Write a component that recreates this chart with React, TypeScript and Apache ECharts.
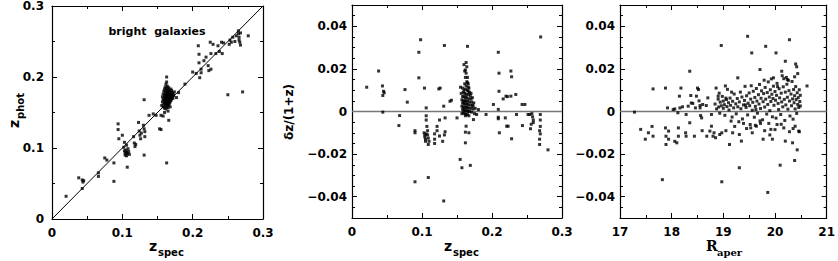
import React, { useEffect, useRef } from "react";
import * as echarts from "echarts";

// ---- tick labels ----
const zTicks = [0, 0.1, 0.2, 0.3];
const dzTicks = [-0.04, -0.02, 0, 0.02, 0.04];
const rTicks = [17, 18, 19, 20, 21];

// ---- panel 1: z_spec vs z_phot ----
const p1Points: number[][] = [
  [0.020, 0.032], [0.038, 0.058], [0.043, 0.055], [0.044, 0.052], [0.045, 0.054], [0.043, 0.043],
  [0.066, 0.065], [0.066, 0.060], [0.075, 0.086], [0.078, 0.083], [0.088, 0.079], [0.088, 0.053],
  [0.094, 0.134], [0.094, 0.126], [0.095, 0.113], [0.100, 0.118], [0.102, 0.101], [0.103, 0.096],
  [0.104, 0.093], [0.104, 0.090], [0.105, 0.097], [0.106, 0.094], [0.106, 0.089], [0.107, 0.092],
  [0.108, 0.099], [0.109, 0.095], [0.110, 0.091], [0.103, 0.108], [0.106, 0.104], [0.107, 0.073],
  [0.116, 0.116], [0.117, 0.107], [0.118, 0.102], [0.119, 0.105], [0.123, 0.136], [0.124, 0.124],
  [0.125, 0.118], [0.126, 0.113], [0.127, 0.121], [0.130, 0.132], [0.131, 0.127], [0.132, 0.123],
  [0.132, 0.116], [0.131, 0.090], [0.131, 0.168], [0.138, 0.146], [0.144, 0.148], [0.148, 0.146],
  [0.153, 0.127], [0.155, 0.126], [0.163, 0.079], [0.166, 0.139],
  [0.156, 0.160], [0.157, 0.165], [0.157, 0.172], [0.158, 0.158], [0.158, 0.168], [0.158, 0.176],
  [0.159, 0.162], [0.159, 0.170], [0.159, 0.180], [0.160, 0.156], [0.160, 0.164], [0.160, 0.167],
  [0.160, 0.174], [0.160, 0.183], [0.161, 0.159], [0.161, 0.163], [0.161, 0.169], [0.161, 0.172],
  [0.161, 0.178], [0.161, 0.186], [0.162, 0.155], [0.162, 0.161], [0.162, 0.166], [0.162, 0.171],
  [0.162, 0.175], [0.162, 0.181], [0.162, 0.190], [0.163, 0.158], [0.163, 0.163], [0.163, 0.168],
  [0.163, 0.173], [0.163, 0.177], [0.163, 0.184], [0.163, 0.193], [0.164, 0.160], [0.164, 0.165],
  [0.164, 0.169], [0.164, 0.172], [0.164, 0.176], [0.164, 0.180], [0.164, 0.187], [0.165, 0.157],
  [0.165, 0.162], [0.165, 0.167], [0.165, 0.171], [0.165, 0.174], [0.165, 0.179], [0.165, 0.183],
  [0.166, 0.161], [0.166, 0.166], [0.166, 0.170], [0.166, 0.175], [0.166, 0.178], [0.166, 0.185],
  [0.167, 0.163], [0.167, 0.168], [0.167, 0.172], [0.167, 0.176], [0.167, 0.181], [0.168, 0.165],
  [0.168, 0.170], [0.168, 0.174], [0.168, 0.179], [0.169, 0.167], [0.169, 0.172], [0.169, 0.177],
  [0.169, 0.183], [0.170, 0.169], [0.170, 0.175], [0.170, 0.181], [0.171, 0.172], [0.171, 0.178],
  [0.172, 0.170], [0.172, 0.176], [0.173, 0.174], [0.174, 0.179], [0.160, 0.150], [0.165, 0.152],
  [0.168, 0.158], [0.158, 0.145], [0.155, 0.146],
  [0.163, 0.200], [0.177, 0.171], [0.180, 0.178], [0.189, 0.190], [0.200, 0.207], [0.205, 0.205],
  [0.208, 0.244], [0.209, 0.232], [0.209, 0.220], [0.210, 0.199], [0.212, 0.211], [0.212, 0.206],
  [0.216, 0.223], [0.219, 0.228], [0.222, 0.216], [0.223, 0.209], [0.225, 0.249], [0.226, 0.233],
  [0.226, 0.211], [0.229, 0.246], [0.233, 0.233], [0.236, 0.244], [0.238, 0.236], [0.241, 0.249],
  [0.242, 0.233], [0.244, 0.248], [0.250, 0.175], [0.252, 0.246], [0.253, 0.252], [0.255, 0.249],
  [0.257, 0.256], [0.260, 0.250], [0.262, 0.258], [0.265, 0.265], [0.265, 0.261], [0.266, 0.256],
  [0.266, 0.252], [0.267, 0.249], [0.268, 0.262], [0.268, 0.245], [0.279, 0.258], [0.271, 0.179],
];

// ---- panel 2: z_spec vs dz/(1+z) ----
const p2Points: number[][] = [
  [0.021, 0.0114], [0.038, 0.019], [0.0435, 0.012], [0.045, 0.0095], [0.046, 0.0088], [0.044, 0.0075],
  [0.044, -0.0003], [0.068, -0.0019], [0.067, -0.0066], [0.0757, 0.0103], [0.079, 0.0044],
  [0.090, -0.009], [0.090, -0.010], [0.090, -0.033], [0.0955, 0.0158], [0.0955, 0.0278], [0.098, 0.0337],
  [0.1035, 0.011], [0.103, -0.010], [0.104, -0.011], [0.104, -0.012], [0.105, -0.013], [0.105, -0.014],
  [0.106, -0.0105], [0.106, 0.0017], [0.106, -0.002], [0.106, -0.004], [0.107, -0.007], [0.108, -0.009],
  [0.108, -0.011], [0.109, -0.0125], [0.109, -0.0155], [0.110, -0.014], [0.109, -0.031],
  [0.118, -0.0105], [0.118, -0.013], [0.118, -0.015], [0.1215, -0.007], [0.1215, -0.009],
  [0.124, 0.0106], [0.126, 0.011], [0.125, -0.004], [0.125, -0.0115], [0.1295, -0.014], [0.131, 0.0025],
  [0.132, -0.011], [0.132, 0.031], [0.133, -0.003], [0.133, -0.0095], [0.131, -0.042],
  [0.140, 0.0048], [0.142, 0.0053], [0.150, -0.003], [0.1545, -0.0225], [0.157, -0.0264], [0.155, 0.0114],
  [0.165, 0.0306], [0.163, -0.0069], [0.162, -0.0097], [0.162, -0.0147], [0.167, -0.010], [0.169, -0.0253],
  [0.1735, -0.0038], [0.1806, 0.0009], [0.178, -0.0014], [0.1915, -0.0014], [0.202, 0.0033],
  [0.209, 0.001], [0.209, -0.0027], [0.209, -0.0034], [0.209, 0.0278], [0.210, 0.018], [0.210, 0.0095],
  [0.2105, -0.0100], [0.216, 0.0059], [0.220, 0.0072], [0.222, 0.0070], [0.219, -0.003], [0.223, -0.0069],
  [0.221, -0.0069], [0.227, 0.019], [0.228, 0.0163], [0.227, 0.0072], [0.228, -0.0128], [0.234, 0.008],
  [0.235, -0.0014], [0.243, 0.0033], [0.247, 0.0033], [0.2435, -0.0066], [0.2515, -0.0014], [0.254, -0.0014],
  [0.255, -0.0081], [0.257, -0.001], [0.258, -0.0025], [0.259, -0.004], [0.259, -0.0052], [0.256, -0.006],
  [0.269, -0.0014], [0.269, -0.004], [0.269, -0.007], [0.268, -0.009], [0.269, -0.0105], [0.268, -0.013],
  [0.268, -0.0155], [0.2695, 0.035], [0.280, -0.018],
  [0.160, 0.022], [0.163, 0.023], [0.164, 0.021], [0.161, 0.019], [0.163, 0.018], [0.165, 0.016],
  [0.162, 0.016], [0.164, 0.014], [0.166, 0.013], [0.161, 0.013], [0.163, 0.012], [0.167, 0.011],
  [0.158, 0.011], [0.160, 0.010], [0.162, 0.0105], [0.165, 0.010], [0.168, 0.009], [0.159, 0.009],
  [0.161, 0.0085], [0.163, 0.008], [0.166, 0.008], [0.169, 0.0075], [0.158, 0.007], [0.160, 0.007],
  [0.162, 0.0065], [0.164, 0.0065], [0.167, 0.006], [0.170, 0.006], [0.157, 0.0055], [0.159, 0.005],
  [0.161, 0.005], [0.163, 0.005], [0.165, 0.0048], [0.168, 0.0045], [0.171, 0.0045], [0.158, 0.004],
  [0.160, 0.0038], [0.162, 0.0035], [0.164, 0.0035], [0.166, 0.0032], [0.169, 0.003], [0.172, 0.003],
  [0.157, 0.0025], [0.159, 0.0022], [0.161, 0.002], [0.163, 0.002], [0.165, 0.0018], [0.167, 0.0015],
  [0.170, 0.0015], [0.173, 0.0012], [0.158, 0.001], [0.160, 0.0008], [0.162, 0.0005], [0.164, 0.0003],
  [0.166, 0.0], [0.168, 0.0], [0.171, -0.0003], [0.159, -0.0005], [0.161, -0.001], [0.163, -0.0012],
  [0.165, -0.0015], [0.167, -0.002], [0.162, -0.002], [0.175, -0.001], [0.176, 0.0015], [0.174, 0.004],
  [0.156, 0.0085], [0.157, -0.001], [0.166, 0.0115], [0.165, 0.0135], [0.162, 0.0195], [0.166, 0.0095],
  [0.170, 0.0085], [0.172, 0.0065], [0.173, 0.0025],
];

// ---- panel 3: R_aper vs dz/(1+z) ----
const p3Points: number[][] = [
  [17.28, -0.0003], [17.40, -0.0084], [17.49, -0.013], [17.55, -0.010], [17.62, -0.007], [17.64, -0.0116],
  [17.64, 0.0106], [17.82, -0.032], [17.88, 0.011], [17.88, -0.0077], [17.89, -0.0116], [17.89, -0.0155],
  [17.92, 0.0017], [17.94, -0.0092], [17.94, -0.013], [18.03, 0.0009], [18.06, 0.0012], [18.06, -0.014],
  [18.10, -0.0147], [18.13, -0.0116], [18.13, -0.0077], [18.12, -0.0006], [18.15, 0.0072], [18.16, 0.0017],
  [18.18, 0.011], [18.21, 0.0022], [18.28, -0.0014], [18.27, -0.010], [18.28, -0.0116], [18.32, 0.0025],
  [18.35, -0.0053], [18.35, 0.0189], [18.37, 0.0075], [18.38, 0.004], [18.41, 0.0038], [18.44, -0.0116],
  [18.46, 0.0017], [18.48, 0.0072], [18.50, 0.011], [18.52, 0.0103], [18.53, 0.005], [18.55, 0.0028],
  [18.55, 0.0017], [18.56, -0.0019], [18.58, -0.003], [18.59, -0.009], [18.60, 0.0033], [18.67, 0.0028],
  [18.68, -0.0116], [18.70, 0.0064], [18.74, -0.0092], [18.77, -0.0069], [18.77, -0.0014], [18.80, -0.0116],
  [18.82, -0.010], [18.85, -0.0123], [18.86, 0.011], [18.90, 0.0072], [18.93, -0.0108], [18.96, 0.031],
  [18.97, -0.010], [18.97, -0.033], [19.04, 0.012], [19.12, -0.0155], [19.15, -0.0045], [19.18, -0.010],
  [19.28, 0.0158], [19.31, -0.0108], [19.31, -0.0264], [19.35, -0.0139], [19.39, -0.0056], [19.47, 0.0353],
  [19.53, -0.0077], [19.55, 0.0275], [19.56, -0.010], [19.64, -0.0069], [19.71, 0.0197], [19.72, -0.0056],
  [19.77, -0.013], [19.82, 0.0306], [19.86, -0.038], [19.88, -0.0056], [19.92, -0.0084], [19.95, -0.013],
  [19.97, 0.0158], [20.02, 0.0275], [20.04, -0.0061], [20.10, -0.0252], [20.13, 0.0189], [20.17, -0.0077],
  [20.20, 0.0236], [20.20, -0.0139], [20.22, 0.016], [20.24, 0.015], [20.28, 0.0337], [20.34, -0.0147],
  [20.38, -0.023], [20.39, -0.0069], [20.40, 0.0223], [20.42, 0.021], [20.44, 0.0178], [20.43, -0.018],
  [20.46, -0.0092], [20.62, 0.012],
  [18.84, 0.0035], [18.87, 0.0012], [18.90, 0.0058], [18.91, 0.0021], [18.93, -0.0008], [18.94, 0.0044],
  [18.96, 0.0027], [18.98, 0.0071], [19.00, 0.0015], [19.00, 0.0049], [19.02, 0.0032], [19.03, -0.0018],
  [19.06, 0.0056], [19.07, 0.0023], [19.08, 0.0104], [19.10, 0.0041], [19.11, 0.0007], [19.13, 0.0063],
  [19.14, 0.0029], [19.17, -0.0026], [19.18, 0.0048], [19.20, 0.0017], [19.21, 0.0082], [19.24, 0.0036],
  [19.25, -0.0011], [19.27, 0.0061], [19.28, 0.0022], [19.31, 0.0045], [19.33, 0.0091], [19.34, 0.0013],
  [19.36, 0.0068], [19.37, -0.0035], [19.39, 0.0031], [19.41, 0.0052], [19.42, 0.0118], [19.44, 0.0019],
  [19.45, 0.0074], [19.47, -0.0016], [19.48, 0.0039], [19.50, 0.0087], [19.51, 0.0027], [19.53, 0.0058],
  [19.54, 0.0121], [19.56, 0.0006], [19.57, 0.0043], [19.58, 0.0095], [19.60, -0.0027], [19.61, 0.0066],
  [19.62, 0.0024], [19.64, 0.0108], [19.65, 0.0049], [19.66, -0.0008], [19.68, 0.0079], [19.69, 0.0035],
  [19.70, 0.0127], [19.72, 0.0014], [19.73, 0.0062], [19.74, 0.0097], [19.76, -0.0039], [19.77, 0.0046],
  [19.78, 0.0084], [19.80, 0.0021], [19.81, 0.0113], [19.82, 0.0058], [19.84, -0.0012], [19.85, 0.0089],
  [19.86, 0.0033], [19.87, 0.0139], [19.89, 0.0068], [19.90, 0.0004], [19.91, 0.0102], [19.92, 0.0047],
  [19.94, 0.0081], [19.95, -0.0025], [19.96, 0.0061], [19.97, 0.0119], [19.98, 0.0029], [20.00, 0.0094],
  [20.01, 0.0053], [20.02, -0.0031], [20.03, 0.0076], [20.04, 0.0132], [20.06, 0.0038], [20.07, 0.0009],
  [20.08, 0.0107], [20.09, 0.0064], [20.11, -0.0014], [20.12, 0.0086], [20.13, 0.0045], [20.14, 0.0168],
  [20.15, 0.0022], [20.16, 0.0116], [20.18, 0.0057], [20.19, -0.0042], [20.20, 0.0091], [20.21, 0.0031],
  [20.23, 0.0128], [20.24, 0.0067], [20.25, 0.0011], [20.27, 0.0098], [20.28, 0.0049], [20.29, -0.0021],
  [20.31, 0.0082], [20.32, 0.0027], [20.33, 0.0141], [20.34, 0.0059], [20.35, -0.0036], [20.36, 0.0103],
  [20.37, 0.0041], [20.38, 0.0074], [20.39, 0.0012], [20.40, 0.0117], [20.41, 0.0056], [20.42, -0.0009],
  [20.43, 0.0088], [20.44, 0.0033], [20.45, 0.0065], [20.46, 0.0019], [20.47, 0.0102], [20.48, 0.0047],
  [20.49, 0.0076], [20.47, -0.0095], [20.49, 0.0026],
  [18.92, 0.0086], [19.05, 0.0063], [19.16, 0.0091], [19.30, -0.0048], [19.43, 0.0031], [19.52, -0.0061],
  [19.63, 0.0009], [19.71, -0.0044], [19.79, 0.0147], [19.93, 0.0153], [20.05, 0.0117], [20.17, 0.0154],
  [20.26, 0.0146], [20.38, 0.0163],
  [19.05, -0.009], [19.22, -0.007], [19.45, -0.008], [19.62, -0.0065], [19.80, -0.009], [19.90, -0.011],
  [20.00, -0.0085], [20.12, -0.006], [20.28, -0.0095], [20.35, -0.008],
];

const diagLine = [[0, 0], [0.3, 0.3]];
const zeroLineZ = [[0, 0], [0.3, 0]];
const zeroLineR = [[17, 0], [21, 0]];

const LABEL_FONT = "'DejaVu Sans', sans-serif";

function fmt(v: number) {
  if (Math.abs(v) < 1e-9) return "0";
  return String(+v.toFixed(3)).replace("-", "\u2212");
}

const lineStyle = { color: "#000", width: 1.2 };

function mainAxis(o: any) {
  const { min, max, interval, split, position, grid, labels, margin, custom } = o;
  const ax: any = {
    type: "value",
    gridIndex: grid,
    position,
    min,
    max,
    interval,
    axisLine: { show: true, onZero: false, lineStyle },
    axisTick: { show: true, inside: true, length: 5, lineStyle: { color: "#000", width: 1 } },
    minorTick: { show: !!split, splitNumber: split || 2, length: 3, lineStyle: { color: "#000", width: 1 } },
    splitLine: { show: false },
    axisLabel: {
      show: !!labels,
      margin: margin ?? 8,
      color: "#000",
      fontFamily: LABEL_FONT,
      fontWeight: "bold",
      fontSize: 12,
      formatter: (v: number) => fmt(v),
    },
  };
  if (custom) {
    ax.axisTick.customValues = custom;
    ax.axisLabel.customValues = custom;
  }
  return ax;
}

function minorAxis(o: any) {
  return {
    type: "value",
    gridIndex: o.grid,
    position: o.position,
    min: o.min,
    max: o.max,
    interval: o.interval,
    axisLine: { show: false, onZero: false },
    axisTick: { show: true, inside: true, length: 3, lineStyle: { color: "#000", width: 1 } },
    axisLabel: { show: false },
    splitLine: { show: false },
  };
}

export default function App() {
  const ref = useRef<HTMLDivElement>(null);
  useEffect(() => {
    document.body.style.margin = "0";
    const chart = echarts.init(ref.current!, undefined, { renderer: "svg" });
    const grids = [
      { left: 52, top: 5, width: 211, height: 214 },
      { left: 352, top: 5, width: 210, height: 213 },
      { left: 620, top: 5, width: 209, height: 213 },
    ];
    const zMin = zTicks[0], zMax = zTicks[zTicks.length - 1];
    const rMin = rTicks[0], rMax = rTicks[rTicks.length - 1];
    const xAxis = [
      mainAxis({ grid: 0, position: "bottom", min: zMin, max: zMax, interval: 0.1, split: 2, labels: true, margin: 8 }),
      mainAxis({ grid: 0, position: "top", min: zMin, max: zMax, interval: 0.1, split: 2 }),
      mainAxis({ grid: 1, position: "bottom", min: zMin, max: zMax, interval: 0.1, split: 2, labels: true, margin: 8 }),
      mainAxis({ grid: 1, position: "top", min: zMin, max: zMax, interval: 0.1, split: 2 }),
      mainAxis({ grid: 2, position: "bottom", min: rMin, max: rMax, interval: 1, split: 2, labels: true, margin: 8 }),
      mainAxis({ grid: 2, position: "top", min: rMin, max: rMax, interval: 1, split: 2 }),
    ];
    const yAxis = [
      mainAxis({ grid: 0, position: "left", min: zMin, max: zMax, interval: 0.1, split: 2, labels: true, margin: 8 }),
      mainAxis({ grid: 0, position: "right", min: zMin, max: zMax, interval: 0.1, split: 2 }),
      mainAxis({ grid: 1, position: "left", min: -0.05, max: 0.05, interval: 0.01, labels: true, margin: 5, custom: dzTicks }),
      mainAxis({ grid: 1, position: "right", min: -0.05, max: 0.05, interval: 0.01, custom: dzTicks }),
      minorAxis({ grid: 1, position: "left", min: -0.05, max: 0.05, interval: 0.005 }),
      minorAxis({ grid: 1, position: "right", min: -0.05, max: 0.05, interval: 0.005 }),
      mainAxis({ grid: 2, position: "left", min: -0.05, max: 0.05, interval: 0.01, labels: true, margin: 5, custom: dzTicks }),
      mainAxis({ grid: 2, position: "right", min: -0.05, max: 0.05, interval: 0.01, custom: dzTicks }),
      minorAxis({ grid: 2, position: "left", min: -0.05, max: 0.05, interval: 0.005 }),
      minorAxis({ grid: 2, position: "right", min: -0.05, max: 0.05, interval: 0.005 }),
    ];
    const dot = { type: "scatter", symbol: "rect", symbolSize: 3, itemStyle: { color: "#000" }, silent: true };
    const line = (data: number[][], color: string, width: number, xi: number, yi: number) => ({
      type: "line", data, xAxisIndex: xi, yAxisIndex: yi, symbol: "none", silent: true,
      lineStyle: { color, width }, z: 1,
    });
    const series: any[] = [
      line(diagLine, "#000", 1, 0, 0),
      line(zeroLineZ, "#777", 1.5, 2, 2),
      line(zeroLineR, "#777", 1.5, 4, 6),
      { ...dot, xAxisIndex: 0, yAxisIndex: 0, data: p1Points, z: 2 },
      { ...dot, xAxisIndex: 2, yAxisIndex: 2, data: p2Points, z: 2 },
      { ...dot, xAxisIndex: 4, yAxisIndex: 6, data: p3Points, z: 2 },
    ];
    const sans = "'DejaVu Sans', sans-serif";
    const serif = "'DejaVu Serif', serif";
    const t = (text: string, x: number, y: number, size: number, family = sans, extra: any = {}) => ({
      type: "text", x, y,
      style: { text, fontSize: size, fontFamily: family, fontWeight: "bold", fill: "#000", textAlign: "left", textVerticalAlign: "middle", ...extra },
    });
    const graphic = [
      t("bright  galaxies", 157, 31, 11, sans, { textAlign: "center" }),
      t("z", 149, 246, 14),
      t("spec", 158, 252, 10),
      t("z", 444, 246, 14),
      t("spec", 453, 252, 10),
      t("R", 706, 246, 14, serif),
      t("aper", 717, 252, 10, serif),
      {
        type: "group", x: 14, y: 112, rotation: Math.PI / 2,
        children: [t("z", -16, 0, 14), t("phot", -7, 6, 10)],
      },
      {
        type: "group", x: 289, y: 112, rotation: Math.PI / 2,
        children: [t("\u03B4z/(1+z)", 0, 0, 12, sans, { textAlign: "center" })],
      },
    ];
    chart.setOption({
      animation: false,
      backgroundColor: "#fff",
      grid: grids,
      xAxis,
      yAxis,
      series,
      graphic,
    });
    return () => chart.dispose();
  }, []);
  return <div ref={ref} style={{ width: 838, height: 261 }} />;
}
